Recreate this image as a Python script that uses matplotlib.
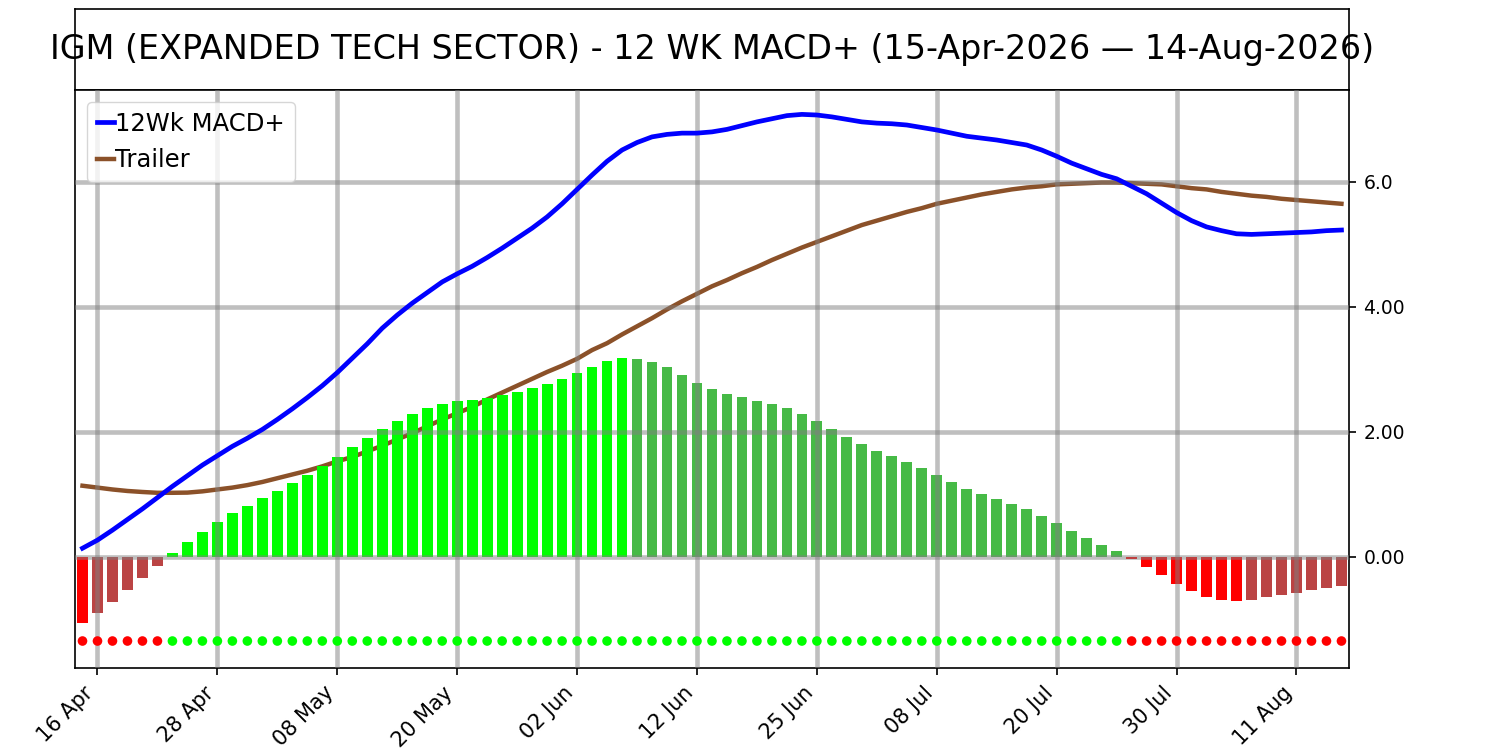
import matplotlib
matplotlib.use("Agg")
import matplotlib.pyplot as plt
from matplotlib.ticker import FixedLocator, FixedFormatter
import pandas as pd
import numpy as np

# trading days shown on the chart
apr = [15, 16, 17, 20, 21, 22, 23, 24, 27, 28, 29, 30]
may = [1, 4, 5, 6, 7, 8, 11, 12, 13, 14, 15, 18, 19, 20, 21, 22, 26, 27, 28, 29]
jun = [1, 2, 3, 4, 5, 8, 9, 10, 11, 12, 15, 16, 17, 18, 22, 23, 24, 25, 26, 29, 30]
jul = [1, 2, 6, 7, 8, 9, 10, 13, 14, 15, 16, 17, 20, 21, 22, 23, 24, 27, 28, 29, 30, 31]
aug = [3, 4, 5, 6, 7, 10, 11, 12, 13, 14]
dates = pd.to_datetime(["2026-04-%02d" % d for d in apr] + ["2026-05-%02d" % d for d in may]
                       + ["2026-06-%02d" % d for d in jun] + ["2026-07-%02d" % d for d in jul]
                       + ["2026-08-%02d" % d for d in aug])

hist = [-1.06, -0.90, -0.715, -0.52, -0.33, -0.14, 0.07, 0.245, 0.40, 0.56,
        0.70, 0.82, 0.944, 1.056, 1.184, 1.312, 1.456, 1.60, 1.76, 1.904,
        2.048, 2.18, 2.288, 2.384, 2.448, 2.49, 2.512, 2.544, 2.592, 2.645,
        2.704, 2.768, 2.848, 2.944, 3.04, 3.136, 3.184, 3.175, 3.12, 3.04,
        2.917, 2.784, 2.688, 2.613, 2.56, 2.496, 2.453, 2.384, 2.288, 2.176,
        2.048, 1.92, 1.808, 1.696, 1.616, 1.52, 1.424, 1.312, 1.20, 1.088,
        1.008, 0.928, 0.848, 0.768, 0.656, 0.544, 0.416, 0.304, 0.192, 0.096,
        -0.037, -0.155, -0.283, -0.427, -0.539, -0.635, -0.683, -0.699, -0.683, -0.635,
        -0.603, -0.571, -0.523, -0.491, -0.459]

macd = [0.14, 0.27, 0.43, 0.60, 0.77, 0.95, 1.13, 1.30, 1.47, 1.62,
        1.77, 1.90, 2.04, 2.20, 2.37, 2.55, 2.74, 2.95, 3.18, 3.41,
        3.66, 3.87, 4.06, 4.23, 4.40, 4.53, 4.65, 4.79, 4.94, 5.10,
        5.26, 5.44, 5.65, 5.88, 6.11, 6.33, 6.51, 6.63, 6.72, 6.76,
        6.78, 6.78, 6.80, 6.84, 6.90, 6.96, 7.01, 7.06, 7.08, 7.07,
        7.04, 7.00, 6.96, 6.94, 6.93, 6.91, 6.87, 6.83, 6.78, 6.73,
        6.70, 6.67, 6.63, 6.59, 6.51, 6.41, 6.30, 6.21, 6.12, 6.05,
        5.93, 5.81, 5.66, 5.51, 5.38, 5.28, 5.22, 5.17, 5.16, 5.17,
        5.18, 5.19, 5.20, 5.22, 5.23]

trailer = [1.14, 1.11, 1.08, 1.056, 1.04, 1.027, 1.027, 1.03, 1.05, 1.08,
           1.11, 1.15, 1.20, 1.26, 1.32, 1.38, 1.45, 1.53, 1.60, 1.69,
           1.78, 1.88, 1.98, 2.09, 2.20, 2.30, 2.40, 2.52, 2.63, 2.74,
           2.85, 2.96, 3.06, 3.17, 3.31, 3.42, 3.56, 3.69, 3.82, 3.96,
           4.09, 4.21, 4.33, 4.43, 4.54, 4.64, 4.75, 4.85, 4.95, 5.04,
           5.13, 5.22, 5.31, 5.38, 5.45, 5.52, 5.58, 5.65, 5.70, 5.75,
           5.80, 5.84, 5.88, 5.91, 5.93, 5.96, 5.97, 5.98, 5.99, 5.99,
           5.98, 5.97, 5.96, 5.93, 5.90, 5.88, 5.84, 5.81, 5.78, 5.76,
           5.73, 5.71, 5.69, 5.67, 5.65]

ytick_vals = [0, 2, 4, 6]
ytick_labels = ["0.00", "2.00", "4.00", "6.0"]
title = "IGM (EXPANDED TECH SECTOR) - 12 WK MACD+ (15-Apr-2026 \u2014 14-Aug-2026)"

x = np.arange(len(dates))
h = np.array(hist)

# bar colours: bright when moving away from zero, dull when coming back
colors = []
for i, v in enumerate(h):
    prev = h[i - 1] if i > 0 else 0
    if v >= 0:
        colors.append("#00ff00" if v >= prev else "#46ba46")
    else:
        colors.append("#ff0000" if v <= prev else "#bb4444")
dot_colors = ["#00ff00" if v >= 0 else "#ff0000" for v in h]

plt.rcParams["axes.linewidth"] = 1.2

fig = plt.figure(figsize=(15, 7.5), dpi=100)
tax = fig.add_axes([0.05, 0.88, 0.8493, 0.108])
tax.set_xticks([])
tax.set_yticks([])
tax.text(0.5, 0.5, title, ha="center", va="center", fontsize=24, transform=tax.transAxes)

ax = fig.add_axes([0.05, 0.1093, 0.8493, 0.7707])
ax.bar(x, h, width=0.72, color=colors, zorder=1)
ax.plot(x, trailer, color="#8b5129", lw=3.2, label="Trailer", zorder=0.9)
ax.plot(x, macd, color="#0000ff", lw=3.4, label="12Wk MACD+", zorder=3)
ax.scatter(x, np.full(len(x), -1.344), s=48, c=dot_colors, zorder=3, linewidths=0)

ax.set_xlim(-0.5, len(x) - 0.5)
ax.set_ylim(-1.776, 7.47)
ax.yaxis.tick_right()
ax.yaxis.set_major_locator(FixedLocator(ytick_vals))
ax.yaxis.set_major_formatter(FixedFormatter(ytick_labels))
ax.tick_params(axis="y", labelsize=13.5, length=5.25, width=1.2, pad=5.25)

tick_idx = list(range(1, len(x), 8))
ax.set_xticks(tick_idx)
ax.set_xticklabels([dates[i].strftime("%d %b") for i in tick_idx], rotation=45, ha="right",
                   fontsize=15)
ax.tick_params(axis="x", length=5.25, width=1.2, pad=5.25)
ax.set_axisbelow(False)
ax.grid(True, color="gray", alpha=0.5, lw=3.3)

handles, labels = ax.get_legend_handles_labels()
ax.legend(handles[::-1], labels[::-1], loc="upper left", fontsize=17.5, handlelength=0.7,
          handletextpad=0.05, borderaxespad=0.5, borderpad=0.4)

plt.savefig("out.png", dpi=100)
